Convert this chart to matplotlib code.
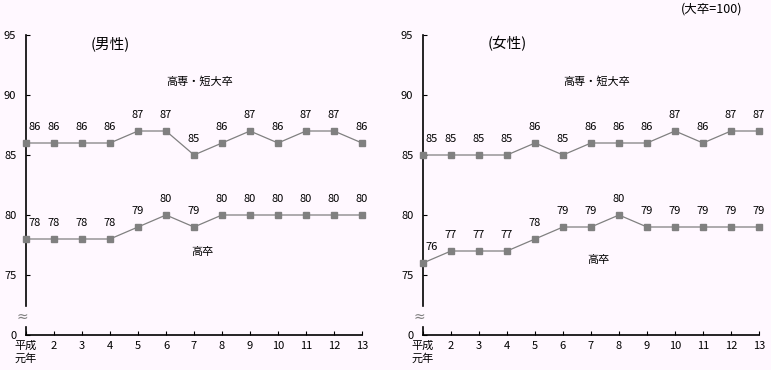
import matplotlib.pyplot as plt

plt.rcParams['font.family'] = ['Noto Sans CJK JP', 'DejaVu Sans']

years = list(range(1, 14))
xlabels = ['平成\n元年'] + [str(y) for y in years[1:]]
yticks = [70, 75, 80, 85, 90, 95]
ylabels = ['0', '75', '80', '85', '90', '95']

male_tandai = [86, 86, 86, 86, 87, 87, 85, 86, 87, 86, 87, 87, 86]
male_kousotsu = [78, 78, 78, 78, 79, 80, 79, 80, 80, 80, 80, 80, 80]
female_tandai = [85, 85, 85, 85, 86, 85, 86, 86, 86, 87, 86, 87, 87]
female_kousotsu = [76, 77, 77, 77, 78, 79, 79, 80, 79, 79, 79, 79, 79]

bg = '#fff8ff'
gray = '#808080'

fig = plt.figure(figsize=(7.71, 3.70), dpi=100, facecolor=bg)


def draw_panel(ax, upper, lower, title, upper_pos, lower_pos):
    ax.set_facecolor(bg)
    for series in (upper, lower):
        ax.plot(years, series, color=gray, lw=0.9, marker='s', ms=4.5,
                mec=gray, mfc=gray, clip_on=False, zorder=3)
        for i, (x, v) in enumerate(zip(years, series)):
            if i == 0:
                ax.annotate(str(v), (x, v), xytext=(1.5, 11.5), textcoords='offset points',
                            ha='left', va='center', fontsize=8)
            else:
                ax.annotate(str(v), (x, v), xytext=(-0.5, 11.5), textcoords='offset points',
                            ha='center', va='center', fontsize=8)
    ax.set_xlim(1, 13)
    ax.set_ylim(70, 95)
    ax.set_xticks(years)
    ax.set_xticklabels(xlabels, fontsize=8, linespacing=1.3)
    ax.set_yticks(yticks)
    ax.set_yticklabels(ylabels, fontsize=8)
    ax.tick_params(axis='y', direction='in', length=3, pad=7)
    ax.tick_params(axis='x', direction='in', length=3, pad=4)
    for s in ('top', 'right', 'left'):
        ax.spines[s].set_visible(False)
    ax.spines['bottom'].set_linewidth(1.2)
    # broken y axis
    ax.plot([1, 1], [70, 70.7], color='black', lw=1.2, clip_on=False)
    ax.plot([1, 1], [72.4, 95], color='black', lw=1.2, clip_on=False)
    ax.annotate('≈', (1, 71.5), xytext=(-2.5, 0), textcoords='offset points',
                ha='center', va='center', fontsize=10, color=gray, family='DejaVu Sans')
    ax.text(0.25, 0.97, title, transform=ax.transAxes, ha='center', va='center', fontsize=10.5)
    ax.text(upper_pos[0], upper_pos[1], '高専・短大卒', ha='center', va='center', fontsize=8)
    ax.text(lower_pos[0], lower_pos[1], '高卒', ha='center', va='center', fontsize=8)


ax1 = fig.add_axes([26 / 771, 35 / 370, 336 / 771, 300 / 370])
draw_panel(ax1, male_tandai, male_kousotsu, '(男性)', (7.2, 91.1), (7.3, 76.9))

ax2 = fig.add_axes([423 / 771, 35 / 370, 336 / 771, 300 / 370])
draw_panel(ax2, female_tandai, female_kousotsu, '(女性)', (7.2, 91.1), (7.25, 76.25))

fig.text(712 / 771, 1 - 9 / 370, '(大卒=100)', ha='center', va='center', fontsize=9)

fig.savefig('out.png', dpi=100, facecolor=bg)
